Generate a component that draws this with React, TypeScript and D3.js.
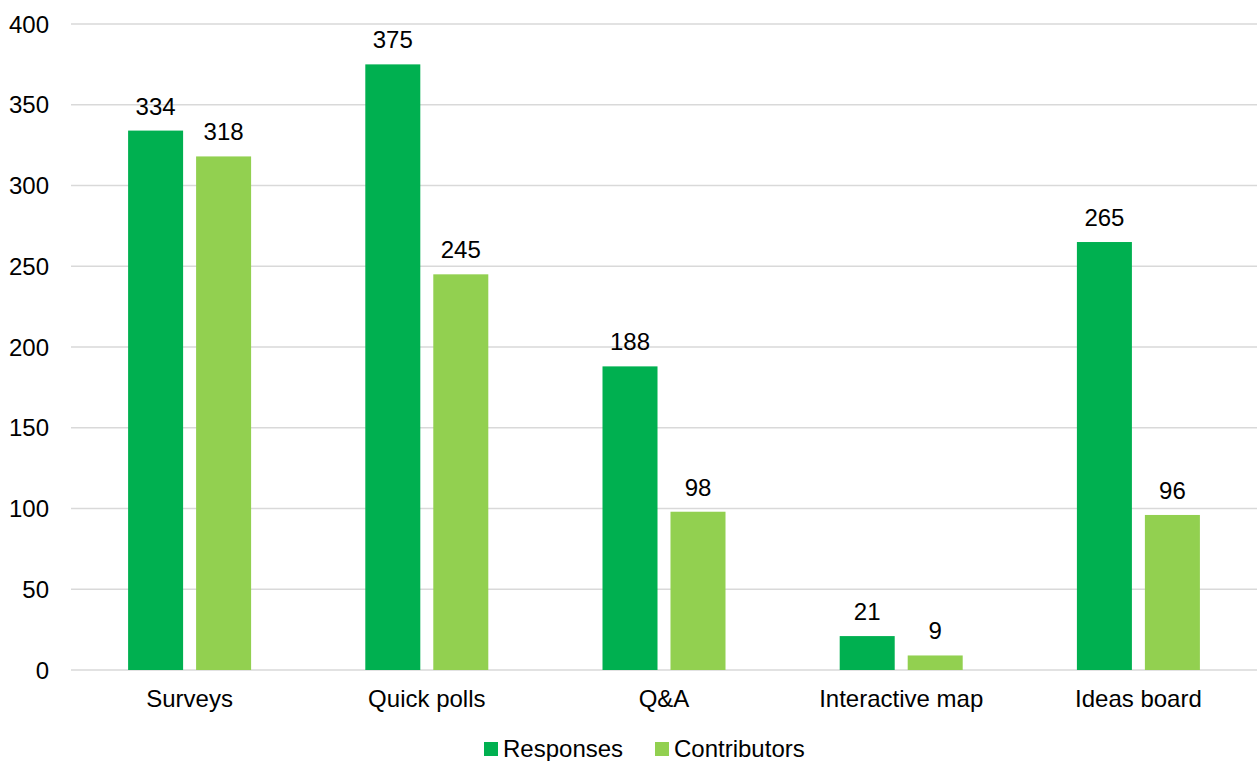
import React from "react";
import * as d3 from "d3";

const categories = ["Surveys", "Quick polls", "Q&A", "Interactive map", "Ideas board"];
const seriesNames = ["Responses", "Contributors"];
const responses = [334, 375, 188, 21, 265];
const contributors = [318, 245, 98, 9, 96];
const yTicks = [0, 50, 100, 150, 200, 250, 300, 350, 400];
const colors = ["#00B050", "#92D050"];

const W = 1257;
const H = 761;
const FONT = "Liberation Sans, Arial, sans-serif";
const FS = 24;

export default function App() {
  const left = 71, right = 1257, top = 24, bottom = 670;
  const x0 = d3.scaleBand<string>().domain(categories).range([left, right]).padding(0);
  const y = d3.scaleLinear().domain([0, 400]).range([bottom, top]);
  const data = [responses, contributors];

  return (
    <svg width={W} height={H} style={{ position: "absolute", left: 0, top: 0, background: "#fff" }} fontFamily={FONT}>
      {yTicks.map((t) => (
        <g key={t}>
          <line x1={left} x2={right} y1={y(t)} y2={y(t)} stroke="#D9D9D9" strokeWidth={1.5} />
          <text x={49} y={y(t) + 8.5} textAnchor="end" fontSize={FS} fill="#000">{t}</text>
        </g>
      ))}
      {categories.map((c, i) => {
        const cx = x0(c)! + x0.bandwidth() / 2;
        const x1 = d3.scaleBand<string>().domain(seriesNames).range([cx - 61.5, cx + 61.5]).paddingInner(0.191).paddingOuter(0);
        return (
          <g key={c}>
            {seriesNames.map((s, j) => {
              const v = data[j][i];
              const bx = x1(s)!;
              const bw = x1.bandwidth();
              return (
                <g key={s}>
                  <rect x={bx} y={y(v)} width={bw} height={y(0) - y(v)} fill={colors[j]} />
                  <text x={bx + bw / 2} y={y(v) - 16} textAnchor="middle" fontSize={FS} fill="#000">{v}</text>
                </g>
              );
            })}
            <text x={cx} y={707} textAnchor="middle" fontSize={FS} fill="#000">{c}</text>
          </g>
        );
      })}
      {seriesNames.map((s, j) => {
        const lx = [484, 655][j];
        return (
          <g key={s}>
            <rect x={lx} y={742} width={14} height={14} fill={colors[j]} />
            <text x={lx + 19} y={757} fontSize={FS} fill="#000">{s}</text>
          </g>
        );
      })}
    </svg>
  );
}
